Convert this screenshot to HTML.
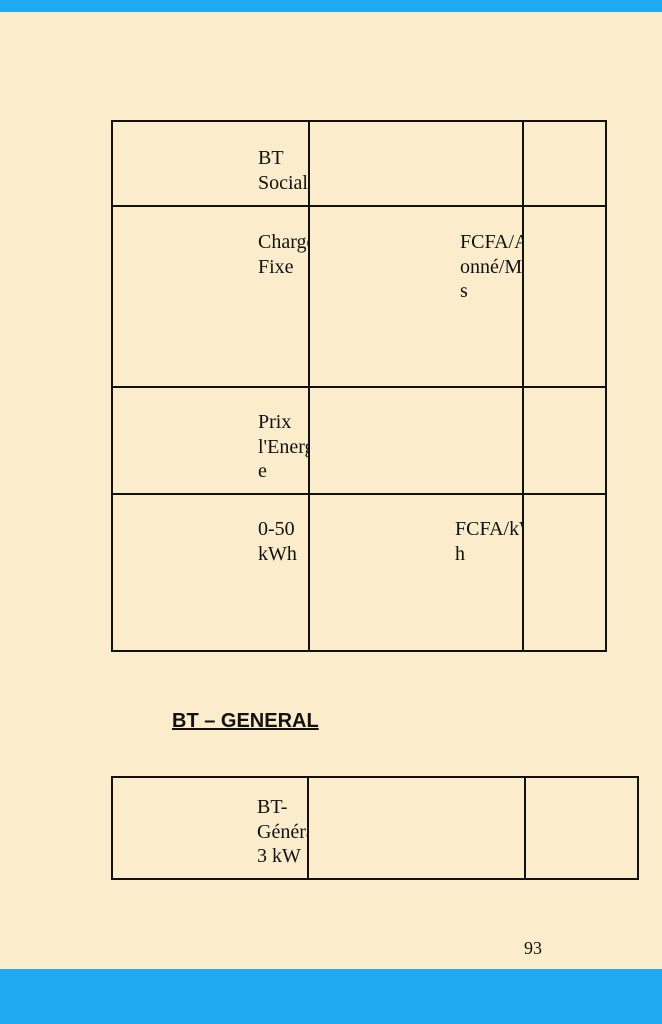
<!DOCTYPE html>
<html><head><meta charset="utf-8"><style>
html,body{margin:0;padding:0}
body{width:662px;height:1024px;position:relative;background:#FBEDCB;overflow:hidden;font-family:"Liberation Serif",serif;color:#111}
.bar{position:absolute;left:0;width:662px;background:#21AAF1}
.h{position:absolute;height:2px;background:#111}
.v{position:absolute;width:2px;background:#111}
.t{position:absolute;font-size:20px;line-height:24.5px;white-space:nowrap;overflow:hidden}
</style></head><body>
<div class="bar" style="top:0;height:12px"></div>
<div class="bar" style="top:969px;height:55px"></div>

<div class="h" style="left:111px;top:120px;width:496px"></div>
<div class="h" style="left:111px;top:205px;width:496px"></div>
<div class="h" style="left:111px;top:386px;width:496px"></div>
<div class="h" style="left:111px;top:493px;width:496px"></div>
<div class="h" style="left:111px;top:650px;width:496px"></div>
<div class="v" style="left:111px;top:120px;height:532px"></div>
<div class="v" style="left:308px;top:120px;height:532px"></div>
<div class="v" style="left:522px;top:120px;height:532px"></div>
<div class="v" style="left:605px;top:120px;height:532px"></div>

<div class="t" style="left:258px;top:146px;width:50px">BT<br>Social</div>
<div class="t" style="left:258px;top:230px;width:50px">Charge<br>Fixe</div>
<div class="t" style="left:460px;top:230px;width:62px">FCFA/Ab<br>onné/Mo<br>s</div>
<div class="t" style="left:258px;top:410px;width:50px">Prix<br>l'Energi<br>e</div>
<div class="t" style="left:258px;top:517px;width:50px">0-50<br>kWh</div>
<div class="t" style="left:455px;top:517px;width:67px">FCFA/kW<br>h</div>

<div style="position:absolute;left:172px;top:709px;font-family:'Liberation Sans',sans-serif;font-weight:bold;font-size:20px;line-height:24px;text-decoration:underline;text-decoration-thickness:2px">BT – GENERAL</div>

<div class="h" style="left:111px;top:776px;width:528px"></div>
<div class="h" style="left:111px;top:878px;width:528px"></div>
<div class="v" style="left:111px;top:776px;height:104px"></div>
<div class="v" style="left:307px;top:776px;height:104px"></div>
<div class="v" style="left:524px;top:776px;height:104px"></div>
<div class="v" style="left:637px;top:776px;height:104px"></div>
<div class="t" style="left:257px;top:795px;width:50px">BT-<br>Générale<br>3 kW</div>

<div class="t" style="left:524px;top:936px;font-size:18px">93</div>
</body></html>
